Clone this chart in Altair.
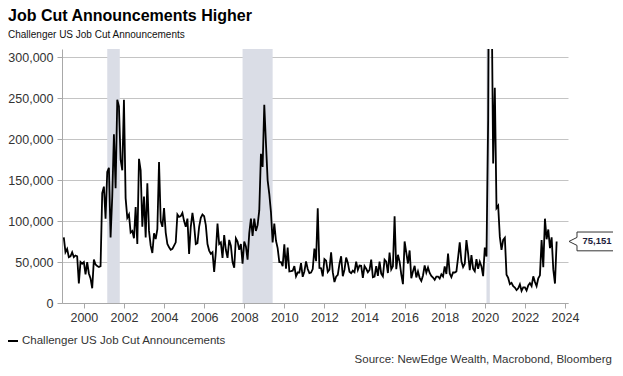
import altair as alt
import pandas as pd

FONT = "Liberation Sans"
SERIES = "Challenger US Job Cut Announcements"
TITLE = "Job Cut Announcements Higher"
SUBTITLE = "Challenger US Job Cut Announcements"
SOURCE = "Source: NewEdge Wealth, Macrobond, Bloomberg"

years = list(range(1999, 2024))
v1999 = [80000, 62000, 66000, 56000, 57000, 62000, 56000, 58000, 57000, 24000, 50000, 48000]
v2000 = [50000, 35000, 50000, 36000, 30000, 18000, 53000, 47000, 45000, 44000, 45000, 134000]
v2001 = [142000, 103000, 160000, 165000, 80000, 130000, 206000, 140000, 248000, 240000, 175000, 162000]
v2002 = [248000, 128000, 104000, 108000, 86000, 88000, 79000, 117000, 72000, 176000, 162000, 93000]
v2003 = [130000, 80000, 146000, 88000, 70000, 61000, 85000, 78000, 90000, 172000, 100000, 93000]
v2004 = [116000, 86000, 72000, 68000, 65000, 66000, 70000, 74000, 108000, 105000, 106000, 110000]
v2005 = [100000, 93000, 103000, 60000, 93000, 110000, 95000, 72000, 73000, 93000, 104000, 108000]
v2006 = [106000, 95000, 72000, 64000, 60000, 62000, 38000, 62000, 97000, 72000, 74000, 55000]
v2007 = [83000, 65000, 55000, 77000, 70000, 50000, 43000, 79000, 75000, 65000, 72000, 48000]
v2008 = [75000, 69000, 53000, 85000, 103000, 82000, 103000, 88000, 95000, 113000, 182000, 166000]
v2009 = [242000, 195000, 150000, 133000, 111000, 74000, 97000, 76000, 67000, 50000, 50000, 45000]
v2010 = [71500, 42000, 67600, 38400, 38800, 39400, 45100, 32600, 37200, 37200, 48700, 32000]
v2011 = [38500, 50700, 41500, 36500, 37100, 41400, 66400, 51100, 115700, 42800, 42500, 32500]
v2012 = [53500, 51700, 37900, 40600, 61900, 37600, 25600, 32200, 34300, 47700, 57100, 32600]
v2013 = [40400, 55400, 49300, 38100, 36400, 39400, 37600, 50500, 40300, 45700, 45300, 30600]
v2014 = [45100, 41800, 37600, 40300, 53000, 31400, 32200, 45000, 33000, 50600, 35900, 32600]
v2015 = [53000, 50600, 36600, 61600, 41000, 44800, 105700, 41200, 58900, 50500, 35000, 23000]
v2016 = [75100, 61600, 48200, 64100, 30200, 38500, 45300, 31200, 38500, 30700, 26900, 33600]
v2017 = [45900, 37000, 43300, 36600, 33100, 31100, 28300, 32300, 32300, 29800, 35100, 32400]
v2018 = [44700, 35400, 60400, 36100, 31500, 37200, 37200, 38500, 55300, 74000, 51000, 43900]
v2019 = [48000, 76800, 60600, 40000, 58600, 42000, 38800, 53500, 41600, 50300, 44600, 32800]
v2020 = [67700, 56700, 222300, 671100, 397000, 170200, 262600, 115800, 118800, 80700, 64800, 77000]
v2021 = [79600, 34500, 30600, 22900, 24600, 20500, 18900, 15700, 17900, 22800, 14900, 19100]
v2022 = [19100, 15200, 21400, 24300, 20700, 32500, 25800, 20500, 30000, 33800, 76800, 43700]
v2023 = [102900, 77800, 89700, 67000, 80100, 40700, 23700, 75151]
monthly = [v1999, v2000, v2001, v2002, v2003, v2004, v2005, v2006, v2007, v2008,
           v2009, v2010, v2011, v2012, v2013, v2014, v2015, v2016, v2017, v2018,
           v2019, v2020, v2021, v2022, v2023]

rec_start = [2001.167, 2007.917, 2020.083]
rec_end = [2001.792, 2009.417, 2020.25]

x_ticks = list(range(2000, 2025, 2))
y_ticks = [0, 50000, 100000, 150000, 200000, 250000, 300000]

rows = []
for yr, vals in zip(years, monthly):
    for m, v in enumerate(vals):
        rows.append({"t": yr + m / 12.0, "value": v, "series": SERIES})
df = pd.DataFrame(rows)
last = df.tail(1)
rec_df = pd.DataFrame({"start": rec_start, "end": rec_end})

W, H = 506, 254
xscale = alt.Scale(domain=[1998.91, 2024.15], nice=False, zero=False)
yscale = alt.Scale(domain=[0, 310000], nice=False)

xaxis = alt.Axis(values=x_ticks, format="d", grid=False, title=None,
                 domainColor="#a8a8a8", tickColor="#a8a8a8", tickSize=5,
                 labelFont=FONT, labelFontSize=12.5, labelColor="#333333",
                 labelPadding=3)
yaxis = alt.Axis(values=y_ticks, format=",d", grid=True, title=None,
                 gridColor="#c4c4c4", gridWidth=1,
                 domainColor="#a8a8a8", tickColor="#a8a8a8", tickSize=5,
                 labelFont=FONT, labelFontSize=12.5, labelColor="#333333",
                 labelPadding=4)

bands = alt.Chart(rec_df).mark_rect(color="#dadde6").encode(
    x=alt.X("start:Q", scale=xscale, axis=xaxis),
    x2="end:Q",
    y=alt.value(0),
    y2=alt.value(H),
)

line = alt.Chart(df).mark_line(strokeWidth=1.8, clip=True).encode(
    x=alt.X("t:Q", scale=xscale, axis=xaxis),
    y=alt.Y("value:Q", scale=yscale, axis=yaxis),
    color=alt.Color("series:N", scale=alt.Scale(range=["#000000"]), title=None,
                    legend=alt.Legend(orient="none", legendX=-55, legendY=286,
                                      symbolType="stroke", symbolStrokeWidth=2,
                                      symbolSize=100, labelFont=FONT,
                                      labelFontSize=11.5, labelColor="#333333",
                                      labelOffset=3, padding=0, labelLimit=400)),
)

callout_path = "M -1 0 L -0.66 -0.17 L -0.66 -0.4 L 1 -0.4 L 1 0.4 L -0.66 0.4 L -0.66 0.17 Z"
callout_box = alt.Chart(last).mark_point(
    shape=callout_path, size=47 * 47, filled=True, fill="white",
    stroke="#333333", strokeWidth=1, opacity=1, fillOpacity=1
).encode(x=alt.value(530.5), y=alt.Y("value:Q", scale=yscale))

callout_text = alt.Chart(last).mark_text(
    font=FONT, fontSize=9.5, fontWeight="bold", color="#1c1c3a",
    align="center", baseline="middle"
).encode(x=alt.value(535), y=alt.Y("value:Q", scale=yscale),
         text=alt.Text("value:Q", format=","))

title_df = pd.DataFrame({"s": [TITLE]})
sub_df = pd.DataFrame({"s": [SUBTITLE]})
src_df = pd.DataFrame({"s": [SOURCE]})

title = alt.Chart(title_df).mark_text(
    font=FONT, fontSize=16, fontWeight="bold", color="#000000",
    align="left", baseline="alphabetic"
).encode(x=alt.value(-54), y=alt.value(-28.3), text="s:N")

subtitle = alt.Chart(sub_df).mark_text(
    font=FONT, fontSize=10, color="#111111",
    align="left", baseline="alphabetic"
).encode(x=alt.value(-54), y=alt.value(-11.3), text="s:N")

source = alt.Chart(src_df).mark_text(
    font=FONT, fontSize=11.5, color="#333333",
    align="right", baseline="alphabetic"
).encode(x=alt.value(550), y=alt.value(314), text="s:N")

chart = alt.layer(bands, line, callout_box, callout_text, title, subtitle, source).properties(
    width=W, height=H,
    autosize=alt.AutoSizeParams(type="none"),
    padding={"left": 54, "top": 41, "right": 45, "bottom": 63},
).configure(font=FONT).configure_view(stroke="transparent")

chart.save("out.html", embed_options={"renderer": "svg", "actions": False})
